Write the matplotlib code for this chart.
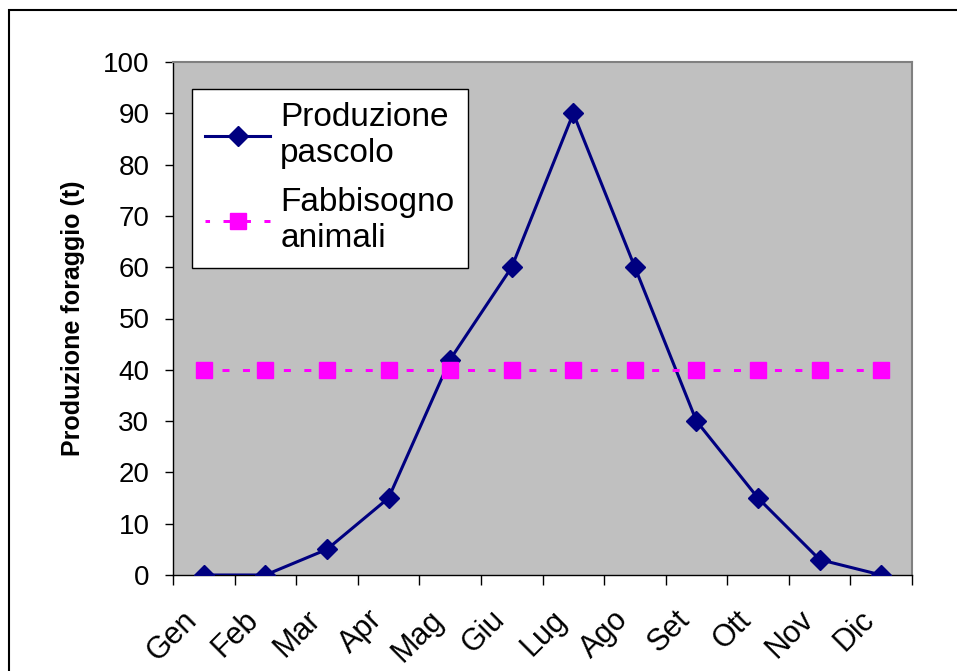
import matplotlib.pyplot as plt
from matplotlib.patches import Rectangle
from matplotlib.transforms import ScaledTranslation
import numpy as np

mesi = ["Gen", "Feb", "Mar", "Apr", "Mag", "Giu", "Lug", "Ago", "Set", "Ott", "Nov", "Dic"]
produzione_pascolo = [0, 0, 5, 15, 42, 60, 90, 60, 30, 15, 3, 0]
fabbisogno_animali = [40, 40, 40, 40, 40, 40, 40, 40, 40, 40, 40, 40]

plt.rcParams['font.family'] = ['Liberation Sans', 'DejaVu Sans']

fig = plt.figure(figsize=(9.57, 6.71), dpi=100)
ax = fig.add_axes([173 / 957, 1 - 575 / 671, (912 - 173) / 957, (575 - 62) / 671])
ax.set_facecolor('#C0C0C0')

# cornice esterna del grafico
fig.patches.append(Rectangle((9 / 957, -0.1), 1.2, 1 - 10 / 671 + 0.1, transform=fig.transFigure,
                             fill=False, edgecolor='black', linewidth=1.5))

x = np.arange(len(mesi))
ax.plot(x, produzione_pascolo, color='#000080', linewidth=2.2, marker='D', markersize=10.5,
        label="Produzione\npascolo", zorder=3)
ax.plot(x, fabbisogno_animali, color='#FF00FF', linewidth=2.16, linestyle=(0.82, (2.33, 4.49)),
        marker='s', markersize=11.5, label="Fabbisogno\nanimali", zorder=4)

ax.set_xlim(-0.5, 11.5)
ax.set_ylim(0, 100)
ax.set_yticks(range(0, 101, 10))
ax.set_xticks(np.arange(-0.5, 12, 1))
ax.set_xticklabels([])
ax.set_xticks(x, minor=True)
ax.set_xticklabels(mesi, minor=True, rotation=45, ha='right', va='center', rotation_mode='anchor')
ax.tick_params(axis='x', which='minor', length=0, pad=29, labelsize=22)
ax.tick_params(axis='x', which='major', length=7.5, width=1, direction='out', color='black')
ax.tick_params(axis='y', length=6, width=1, direction='out', labelsize=20, pad=11)

# sposta le etichette dei mesi un po' a sinistra
shift = ScaledTranslation(-11 / 100, 0, fig.dpi_scale_trans)
for lab in ax.get_xticklabels(minor=True):
    lab.set_transform(lab.get_transform() + shift)

for s in ['top', 'right']:
    ax.spines[s].set_color('#808080')
    ax.spines[s].set_linewidth(1.5)
for s in ['left', 'bottom']:
    ax.spines[s].set_color('black')
    ax.spines[s].set_linewidth(1)

ax.set_ylabel("Produzione foraggio (t)", fontsize=18, fontweight='bold', va='center')
ax.yaxis.set_label_coords((73 - 173) / 739, 0.5)

leg = ax.legend(loc='upper left', bbox_to_anchor=(19 / 739, (575 - 89) / 513), borderaxespad=0,
                fontsize=24, frameon=True, fancybox=False, edgecolor='black', framealpha=1,
                handlelength=1.95, labelspacing=0.55, handletextpad=0.3, borderpad=0.4)
leg.get_frame().set_linewidth(1)

fig.savefig("out.png", dpi=100)
